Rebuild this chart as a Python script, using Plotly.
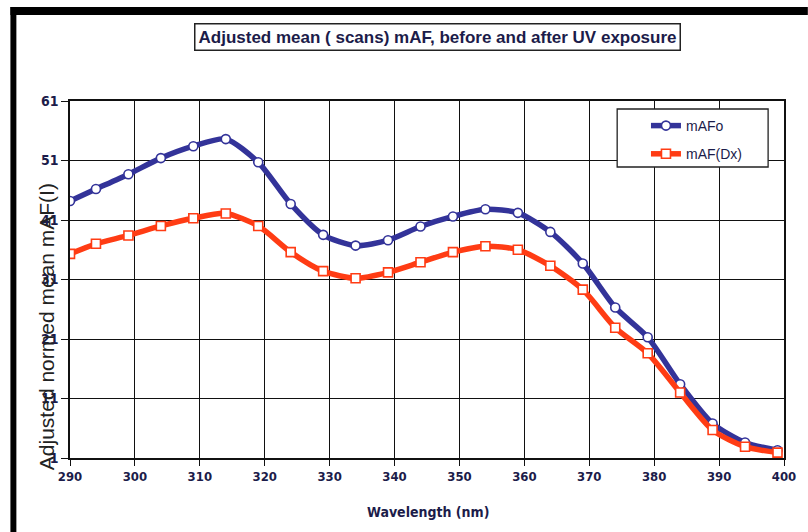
import plotly.graph_objects as go

wavelength = [290, 294, 299, 304, 309, 314, 319, 324, 329, 334, 339, 344,
              349, 354, 359, 364, 369, 374, 379, 384, 389, 394, 399]
mafo = [44.2, 46.2, 48.7, 51.4, 53.4, 54.6, 50.7, 43.7, 38.5, 36.7, 37.6, 39.9,
        41.6, 42.8, 42.2, 39.0, 33.7, 26.3, 21.3, 13.4, 6.8, 3.6, 2.3]
maf_dx = [35.3, 37.0, 38.4, 40.0, 41.3, 42.1, 40.0, 35.6, 32.4, 31.2, 32.2, 33.9,
          35.6, 36.6, 36.0, 33.3, 29.3, 22.9, 18.6, 12.0, 5.7, 2.9, 1.9]

title_text = "Adjusted mean ( scans) mAF, before and after UV exposure"
x_title = "Wavelength (nm)"
y_title = "Adjusted normed mean mAF(I)"

W, H = 808, 532
L, R, T, B = 70, 19, 101, 74
pw, ph = W - L - R, H - T - B

def px(x):
    return (x - L) / pw

def py(y):
    return (H - B - y) / ph

navy = "#1c1c4a"
blue = "#333399"
red = "#ff3c14"
narrow = "Liberation Sans Narrow, Arial Narrow, DejaVu Sans Condensed, Liberation Sans"

fig = go.Figure()
fig.add_trace(go.Scatter(
    x=wavelength, y=mafo, name="mAFo", mode="lines+markers", legendgroup="a",
    line=dict(color=blue, width=5.5, shape="spline", smoothing=0.7),
    marker=dict(symbol="circle", size=9, color="white", line=dict(color=blue, width=1.6)),
))
fig.add_trace(go.Scatter(
    x=wavelength, y=maf_dx, name="mAF(Dx)", mode="lines+markers", legendgroup="b",
    line=dict(color=red, width=5.5, shape="spline", smoothing=0.7),
    marker=dict(symbol="square", size=9, color="white", line=dict(color=red, width=1.6)),
))

fig.update_layout(
    width=W, height=H,
    margin=dict(l=L, r=R, t=T, b=B),
    paper_bgcolor="white", plot_bgcolor="white",
    showlegend=True,
    legend=dict(
        x=px(650), y=py(110), xanchor="left", yanchor="top",
        bgcolor="rgba(0,0,0,0)", borderwidth=0,
        font=dict(family="Liberation Sans, Arial", size=14, color=navy),
        tracegroupgap=7, itemwidth=30,
    ),
    font=dict(family="Liberation Sans, Arial"),
)

fig.update_xaxes(
    range=[290, 400], tick0=290, dtick=10,
    showgrid=True, gridcolor="#111111", gridwidth=1.3,
    showline=True, linecolor="#111111", linewidth=1.5, mirror=True,
    ticks="outside", ticklen=6, tickcolor="#111111",
    tickfont=dict(family=narrow, size=13, color=navy, weight="bold"),
    zeroline=False,
)
fig.update_yaxes(
    range=[1, 61], tick0=1, dtick=10,
    showgrid=True, gridcolor="#111111", gridwidth=1.3,
    showline=True, linecolor="#111111", linewidth=1.5, mirror=True,
    ticks="outside", ticklen=7, tickcolor="#111111",
    tickfont=dict(family=narrow, size=14, color=navy, weight="bold"),
    zeroline=False,
)

# legend frame
fig.add_shape(type="rect", xref="paper", yref="paper",
              x0=px(621), x1=px(773), y0=py(167), y1=py(109),
              fillcolor="white", line=dict(color="#222222", width=1.3), layer="above")

fig.add_annotation(
    text="<b>" + title_text + "</b>", xref="paper", yref="paper",
    x=px(440), y=py(37.5), xanchor="center", yanchor="middle", showarrow=False,
    font=dict(family="Liberation Sans, Arial", size=17, color=navy),
    bordercolor="#222222", borderwidth=1.5, borderpad=3, bgcolor="white",
)
fig.add_annotation(
    text="<b>" + x_title + "</b>", xref="paper", yref="paper",
    x=px(431), y=py(512), xanchor="center", yanchor="middle", showarrow=False,
    font=dict(family=narrow, size=14, color=navy),
)
fig.add_annotation(
    text=y_title, xref="paper", yref="paper", textangle=-90,
    x=px(46), y=py(327), xanchor="center", yanchor="middle", showarrow=False,
    font=dict(family="Liberation Sans, Arial", size=21, color="#222222"),
)

# page frame bars (top and left)
fig.add_shape(type="rect", xref="paper", yref="paper",
              x0=px(10), x1=px(W + 5), y0=py(15), y1=py(7),
              fillcolor="black", line=dict(width=0), layer="above")
fig.add_shape(type="rect", xref="paper", yref="paper",
              x0=px(10), x1=px(16), y0=py(H + 5), y1=py(7),
              fillcolor="black", line=dict(width=0), layer="above")

fig.write_html("out.html", config={"displayModeBar": False},
               post_script="document.body.style.margin='0';")
